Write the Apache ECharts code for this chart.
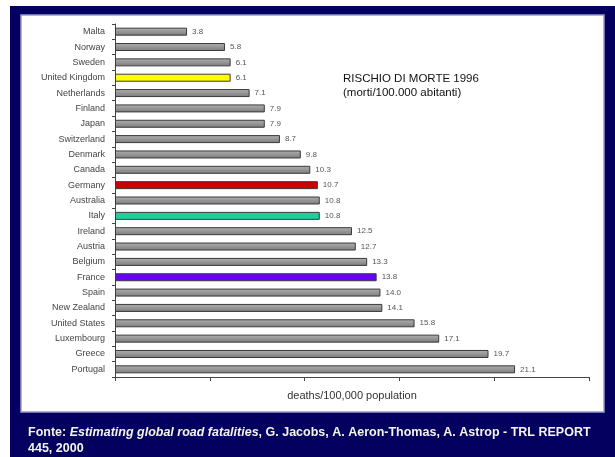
<!DOCTYPE html>
<html>
<head>
<meta charset="utf-8">
<script src="https://cdn.jsdelivr.net/npm/echarts@6/dist/echarts.min.js"></script>
<style>
  html, body { margin: 0; padding: 0; background: #fff; }
  #chart { width: 615px; height: 457px; }
</style>
</head>
<body>
<div id="chart"></div>
<script>
const countries = [
  'Malta', 'Norway', 'Sweden', 'United Kingdom', 'Netherlands', 'Finland',
  'Japan', 'Switzerland', 'Denmark', 'Canada', 'Germany', 'Australia',
  'Italy', 'Ireland', 'Austria', 'Belgium', 'France', 'Spain',
  'New Zealand', 'United States', 'Luxembourg', 'Greece', 'Portugal'
];
const deaths = [
  3.8, 5.8, 6.1, 6.1, 7.1, 7.9,
  7.9, 8.7, 9.8, 10.3, 10.7, 10.8,
  10.8, 12.5, 12.7, 13.3, 13.8, 14.0,
  14.1, 15.8, 17.1, 19.7, 21.1
];
const xTicks = [0, 5, 10, 15, 20, 25];

// colori evidenziati, il resto grigio
const highlight = {
  'United Kingdom': '#ffff00',
  'Germany': '#cc0000',
  'Italy': '#1fcf9a',
  'France': '#6a00ff'
};

const chart = echarts.init(document.getElementById('chart'));

const barData = countries.map((c, i) => ({
  value: deaths[i],
  itemStyle: highlight[c]
    ? { color: highlight[c] }
    : {
        color: new echarts.graphic.LinearGradient(0, 0, 0, 1, [
          { offset: 0, color: '#b0b0b0' },
          { offset: 0.5, color: '#969696' },
          { offset: 1, color: '#7a7a7a' }
        ])
      }
}));

const option = {
  animation: false,
  backgroundColor: '#fff',
  graphic: [
    { type: 'rect', z: -10, shape: { x: 10, y: 6, width: 605, height: 451 }, style: { fill: '#03005f' } },
    { type: 'rect', z: -9, shape: { x: 21, y: 15, width: 583, height: 397 }, style: { fill: '#ffffff', stroke: '#9a9acb', lineWidth: 1.5 } },
    {
      type: 'text', left: 343, top: 72,
      style: { text: 'RISCHIO DI MORTE 1996\n(morti/100.000 abitanti)', fill: '#111', font: '11.5px "Liberation Sans", Arial', lineHeight: 14 }
    },
    {
      type: 'text', left: 28, top: 426,
      style: {
        text: '{a|Fonte: }{b|Estimating global road fatalities}{a|, G. Jacobs, A. Aeron-Thomas, A. Astrop - TRL REPORT}\n{a|445, 2000}',
        rich: {
          a: { fill: '#f4f4e8', font: 'bold 12.5px "Liberation Sans", Arial', lineHeight: 16 },
          b: { fill: '#f4f4e8', font: 'italic bold 12.5px "Liberation Sans", Arial', lineHeight: 16 }
        }
      }
    }
  ],
  grid: { left: 115, right: 26, top: 24, bottom: 80 },
  xAxis: {
    type: 'value',
    min: xTicks[0],
    max: xTicks[xTicks.length - 1],
    interval: 5,
    name: 'deaths/100,000 population',
    nameLocation: 'middle',
    nameGap: 13,
    nameTextStyle: { color: '#333', fontSize: 11, fontFamily: 'Liberation Sans' },
    axisLine: { show: true, lineStyle: { color: '#444', width: 1 } },
    axisTick: { show: true, length: 4, lineStyle: { color: '#444' } },
    axisLabel: { show: false },
    splitLine: { show: false }
  },
  yAxis: {
    type: 'category',
    inverse: true,
    data: countries,
    axisLine: { show: true, lineStyle: { color: '#444', width: 1 } },
    axisTick: { show: true, length: 3, lineStyle: { color: '#444' } },
    axisLabel: { color: '#444', fontSize: 9, fontFamily: 'Liberation Sans', margin: 10 }
  },
  series: [
    {
      type: 'bar',
      data: barData,
      barWidth: 8,
      itemStyle: { borderColor: '#3a3a3a', borderWidth: 1 },
      label: {
        show: true,
        position: 'right',
        distance: 5,
        color: '#555',
        fontSize: 8,
        fontFamily: 'Liberation Sans',
        formatter: (p) => p.value.toFixed(1)
      }
    }
  ]
};

chart.setOption(option);
</script>
</body>
</html>
